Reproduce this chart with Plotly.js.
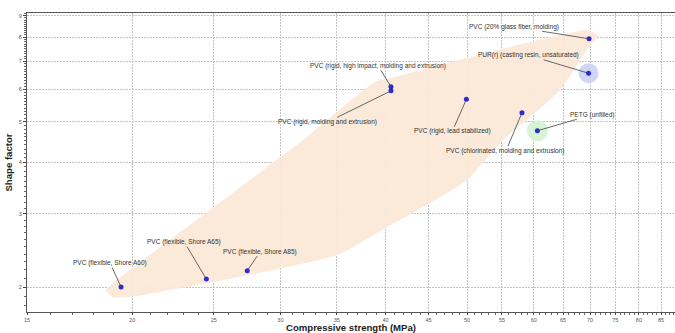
<!DOCTYPE html>
<html>
<head>
<meta charset="utf-8">
<script src="https://cdn.plot.ly/plotly-3.0.1.min.js"></script>
<style>html,body{margin:0;padding:0;background:#fff;}#chart{width:675px;height:333px;}</style>
</head>
<body>
<div id="chart"></div>
<script>
// ---- data ----
const materials = [
  "PVC (flexible, Shore A60)",
  "PVC (flexible, Shore A65)",
  "PVC (flexible, Shore A85)",
  "PVC (rigid, high impact, molding and extrusion)",
  "PVC (rigid, molding and extrusion)",
  "PVC (rigid, lead stabilized)",
  "PVC (chlorinated, molding and extrusion)",
  "PETG (unfilled)",
  "PVC (20% glass fiber, molding)",
  "PUR(r) (casting resin, unsaturated)"
];
const compressiveStrength = [19.4, 24.5, 27.4, 40.6, 40.6, 49.9, 58.1, 60.6, 69.8, 69.7];
const shapeFactor = [2.0, 2.09, 2.19, 6.08, 5.94, 5.67, 5.26, 4.76, 7.93, 6.55];

// PVC family envelope boundary
const envelopeX = [18.93, 19.89, 35.04, 40.17, 45.19, 50.0, 55.17, 64.5, 69.99, 71.54, 69.6, 41.06, 38.87, 31.92, 18.98, 18.62, 18.93];
const envelopeY = [1.892, 1.892, 2.388, 2.791, 3.188, 3.622, 4.522, 5.968, 7.658, 8.05, 8.323, 6.413, 6.238, 4.522, 2.045, 1.967, 1.892];

// highlighted materials
const highlightNames = ["PUR(r) (casting resin, unsaturated)", "PETG (unfilled)"];

const xTicks = [15, 20, 25, 30, 35, 40, 45, 50, 55, 60, 65, 70, 75, 80, 85];
const yTicks = [2, 3, 4, 5, 6, 7, 8, 9];

// ---- layout / style config ----
const labelOffsets = [
  [-11, -24], [-22, -37], [13, -19], [-13, -21], [-63, 31],
  [-14, 32], [-16, 38], [55, -16], [-75, -12], [-60, -18]
];
const haloStyle = {
  "PUR(r) (casting resin, unsaturated)": {color: "rgba(205,210,245,0.9)", size: 20},
  "PETG (unfilled)": {color: "rgba(210,243,208,0.9)", size: 21}
};

const xMinor = [];
for (let v = 16; v <= 88; v++) if (xTicks.indexOf(v) < 0) xMinor.push(v);
const yMinor = [];
for (let v = 18; v <= 91; v++) { const val = v / 10; if (v % 10 !== 0) yMinor.push(val); }

const traces = [];
traces.push({
  x: envelopeX, y: envelopeY, type: "scatter", mode: "lines",
  fill: "toself", fillcolor: "rgba(251,232,215,0.95)",
  line: {width: 0, color: "rgba(0,0,0,0)", shape: "spline", smoothing: 0.5},
  hoverinfo: "skip", showlegend: false
});
highlightNames.forEach(n => {
  const i = materials.indexOf(n);
  traces.push({
    x: [compressiveStrength[i]], y: [shapeFactor[i]], type: "scatter", mode: "markers",
    marker: {size: haloStyle[n].size, color: haloStyle[n].color, line: {width: 0}},
    hoverinfo: "skip", showlegend: false
  });
});
traces.push({
  x: compressiveStrength, y: shapeFactor, text: materials, type: "scatter", mode: "markers",
  marker: {size: 5, color: "#2b2bdc", line: {width: 0}},
  showlegend: false
});

const annotations = materials.map((m, i) => ({
  x: Math.log10(compressiveStrength[i]), y: Math.log10(shapeFactor[i]),
  xref: "x", yref: "y", text: m, showarrow: true, arrowhead: 0, arrowwidth: 0.8,
  arrowcolor: "#444", ax: labelOffsets[i][0], ay: labelOffsets[i][1],
  standoff: 0, startstandoff: 0,
  font: {family: "Liberation Sans, Arial, sans-serif", size: 6.5, color: "#333"},
  bgcolor: "rgba(0,0,0,0)", borderpad: 0
}));

const layout = {
  width: 675, height: 333,
  margin: {l: 27, r: 0, t: 13, b: 21},
  paper_bgcolor: "#fff", plot_bgcolor: "#fff",
  font: {family: "Liberation Sans, Arial, sans-serif", color: "#333"},
  showlegend: false,
  xaxis: {
    type: "log", range: [Math.log10(15), Math.log10(88.3)],
    tickmode: "array", tickvals: xTicks, ticktext: xTicks.map(String),
    ticks: "outside", ticklen: 2, tickwidth: 1, tickcolor: "#444",
    tickfont: {size: 5.5, color: "#555"},
    showline: true, linecolor: "#555", linewidth: 1, mirror: true,
    showgrid: true, gridcolor: "#c4c4c4", griddash: "2px,1px", gridwidth: 1,
    zeroline: false, automargin: false,
    minor: {tickmode: "array", tickvals: xMinor, ticks: "outside", ticklen: 2, tickcolor: "#666", showgrid: false},
    title: {text: "Compressive strength (MPa)", standoff: 3,
      font: {size: 9.6, color: "#222", family: "Liberation Sans, Arial, sans-serif", weight: "bold"}}
  },
  yaxis: {
    type: "log", range: [Math.log10(1.741), Math.log10(9.15)],
    tickmode: "array", tickvals: yTicks, ticktext: yTicks.map(String),
    ticks: "outside", ticklen: 3, tickwidth: 1, tickcolor: "#444",
    tickfont: {size: 5.5, color: "#555"},
    showline: true, linecolor: "#555", linewidth: 1,
    showgrid: true, gridcolor: "#c4c4c4", griddash: "2px,1px", gridwidth: 1,
    zeroline: false, automargin: false,
    minor: {tickmode: "array", tickvals: yMinor, ticks: "outside", ticklen: 2, tickcolor: "#666", showgrid: false},
    title: {text: "Shape factor", standoff: 4,
      font: {size: 9.6, color: "#222", family: "Liberation Sans, Arial, sans-serif", weight: "bold"}}
  },
  annotations: annotations
};

Plotly.newPlot("chart", traces, layout, {displayModeBar: false, staticPlot: true});
</script>
</body>
</html>
